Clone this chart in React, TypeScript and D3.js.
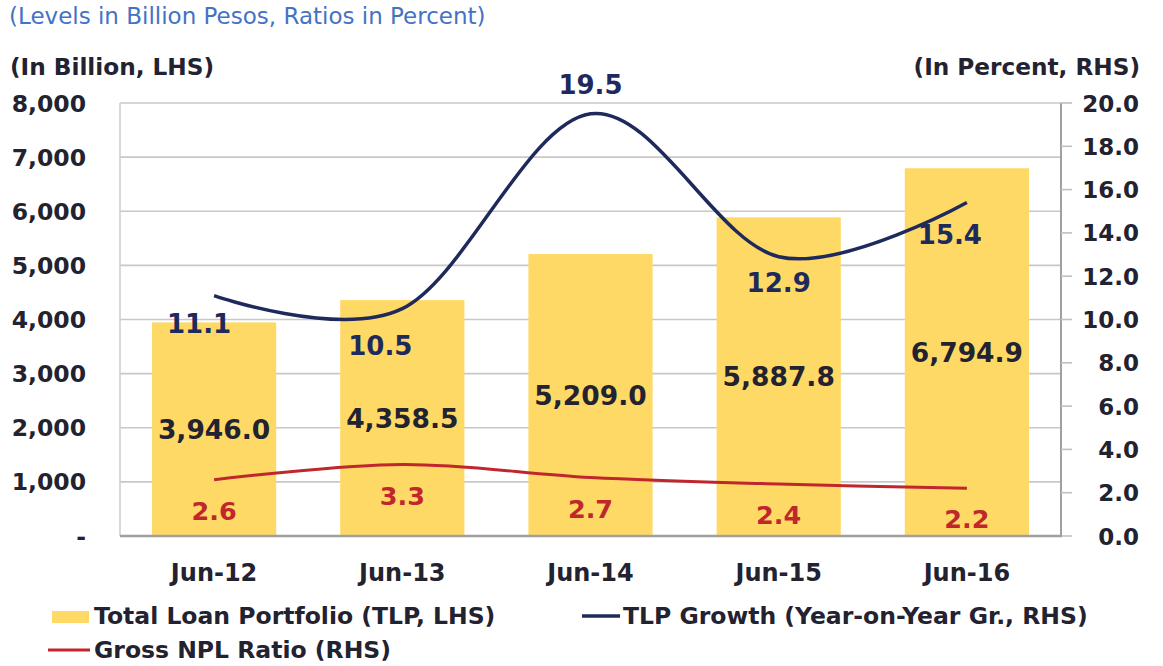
import React from "react";
import * as d3 from "d3";

const categories = ["Jun-12", "Jun-13", "Jun-14", "Jun-15", "Jun-16"];
const tlpValues = [3946.0, 4358.5, 5209.0, 5887.8, 6794.9];
const tlpGrowth = [11.1, 10.5, 19.5, 12.9, 15.4];
const nplRatio = [2.6, 3.3, 2.7, 2.4, 2.2];
const leftTicks = [0, 1000, 2000, 3000, 4000, 5000, 6000, 7000, 8000];
const rightTicks = [0, 2, 4, 6, 8, 10, 12, 14, 16, 18, 20];

// label offsets (style, not data)
const growthLabelOffsets: [number, number][] = [
  [-15, 37],
  [-22, 46],
  [0, -20],
  [0, 35],
  [-17, 41],
];

const W = 1163;
const H = 666;
const plot = { left: 120, right: 1061, top: 103, bottom: 536 };

const FONT = "'DejaVu Sans', Verdana, sans-serif";
const TEXT = "#222230";
const NAVY = "#1f2a5c";
const RED = "#c0272d";
const YELLOW = "#ffd966";

export default function App() {
  const x = d3
    .scaleBand<string>()
    .domain(categories)
    .range([plot.left, plot.right])
    .paddingInner(0.34)
    .paddingOuter(0.17);
  const yL = d3.scaleLinear().domain([0, 8000]).range([plot.bottom, plot.top]);
  const yR = d3.scaleLinear().domain([0, 20]).range([plot.bottom, plot.top]);
  const cx = (c: string) => (x(c) ?? 0) + x.bandwidth() / 2;

  const lineGen = d3
    .line<number>()
    .x((_, i) => cx(categories[i]))
    .y((d) => yR(d))
    .curve(d3.curveCatmullRom.alpha(0));

  const fmtL = (v: number) => (v === 0 ? "-" : d3.format(",")(v));
  const fmtBar = d3.format(",.1f");

  return (
    <svg
      width={W}
      height={H}
      style={{ position: "absolute", left: 0, top: 0, background: "#fff" }}
      fontFamily={FONT}
    >
      {/* title */}
      <text x={9} y={24} fontSize={23} fill="#4472c4">
        (Levels in Billion Pesos, Ratios in Percent)
      </text>
      <text x={10} y={75} fontSize={23.2} fontWeight="bold" fill={TEXT}>
        (In Billion, LHS)
      </text>
      <text x={1140} y={75} fontSize={23.2} fontWeight="bold" fill={TEXT} textAnchor="end">
        (In Percent, RHS)
      </text>

      {/* gridlines */}
      {leftTicks.map((t) => (
        <line
          key={"g" + t}
          x1={plot.left}
          x2={plot.right}
          y1={yL(t)}
          y2={yL(t)}
          stroke="#c8c8c8"
          strokeWidth={1.6}
        />
      ))}
      {/* left axis line */}
      <line x1={plot.left} x2={plot.left} y1={plot.top} y2={plot.bottom} stroke="#d0d0d0" strokeWidth={1.6} />

      {/* bars */}
      {categories.map((c, i) => (
        <rect
          key={"b" + c}
          x={x(c)}
          width={x.bandwidth()}
          y={yL(tlpValues[i])}
          height={plot.bottom - yL(tlpValues[i])}
          fill={YELLOW}
        />
      ))}

      {/* right axis */}
      <line x1={plot.right} x2={plot.right} y1={plot.top} y2={plot.bottom} stroke="#a0a0a0" strokeWidth={2} />
      {rightTicks.map((t) => (
        <line
          key={"rt" + t}
          x1={plot.right}
          x2={plot.right + 11}
          y1={yR(t)}
          y2={yR(t)}
          stroke="#c0c0c0"
          strokeWidth={1.6}
        />
      ))}
      {/* bottom axis */}
      <line x1={plot.left} x2={plot.right + 1} y1={plot.bottom} y2={plot.bottom} stroke="#a0a0a0" strokeWidth={2.5} />

      {/* left tick labels */}
      {leftTicks.map((t) => (
        <text
          key={"lt" + t}
          x={86}
          y={yL(t) + 8.5}
          fontSize={23.5}
          fontWeight="bold"
          fill={TEXT}
          textAnchor="end"
        >
          {fmtL(t)}
        </text>
      ))}
      {/* right tick labels */}
      {rightTicks.map((t) => (
        <text
          key={"rl" + t}
          x={1139}
          y={yR(t) + 8.5}
          fontSize={23}
          fontWeight="bold"
          fill={TEXT}
          textAnchor="end"
        >
          {t.toFixed(1)}
        </text>
      ))}
      {/* category labels */}
      {categories.map((c) => (
        <text
          key={"c" + c}
          x={cx(c)}
          y={581}
          fontSize={24}
          fontWeight="bold"
          fill={TEXT}
          textAnchor="middle"
        >
          {c}
        </text>
      ))}

      {/* lines */}
      <path d={lineGen(nplRatio) ?? ""} fill="none" stroke={RED} strokeWidth={3} />
      <path d={lineGen(tlpGrowth) ?? ""} fill="none" stroke={NAVY} strokeWidth={3.5} />

      {/* bar labels */}
      {categories.map((c, i) => (
        <text
          key={"bl" + c}
          x={cx(c)}
          y={(yL(tlpValues[i]) + plot.bottom) / 2 + 9.5}
          fontSize={26.5}
          fontWeight="bold"
          fill={TEXT}
          textAnchor="middle"
        >
          {fmtBar(tlpValues[i])}
        </text>
      ))}
      {/* growth labels */}
      {categories.map((c, i) => (
        <text
          key={"gl" + c}
          x={cx(c) + growthLabelOffsets[i][0]}
          y={yR(tlpGrowth[i]) + growthLabelOffsets[i][1]}
          fontSize={26}
          fontWeight="bold"
          fill={NAVY}
          textAnchor="middle"
        >
          {tlpGrowth[i].toFixed(1)}
        </text>
      ))}
      {/* npl labels */}
      {categories.map((c, i) => (
        <text
          key={"nl" + c}
          x={cx(c)}
          y={yR(nplRatio[i]) + 40}
          fontSize={25.5}
          fontWeight="bold"
          fill={RED}
          textAnchor="middle"
        >
          {nplRatio[i].toFixed(1)}
        </text>
      ))}

      {/* legend */}
      <rect x={52} y={611} width={37} height={12} fill={YELLOW} />
      <text x={94} y={624} fontSize={23.5} fontWeight="bold" fill={TEXT}>
        Total Loan Portfolio (TLP, LHS)
      </text>
      <line x1={582} x2={620} y1={616} y2={616} stroke={NAVY} strokeWidth={3.5} />
      <text x={623} y={624} fontSize={23.5} fontWeight="bold" fill={TEXT}>
        TLP Growth (Year-on-Year Gr., RHS)
      </text>
      <line x1={48} x2={90} y1={650} y2={650} stroke={RED} strokeWidth={3} />
      <text x={94} y={658} fontSize={23.5} fontWeight="bold" fill={TEXT}>
        Gross NPL Ratio (RHS)
      </text>
    </svg>
  );
}
